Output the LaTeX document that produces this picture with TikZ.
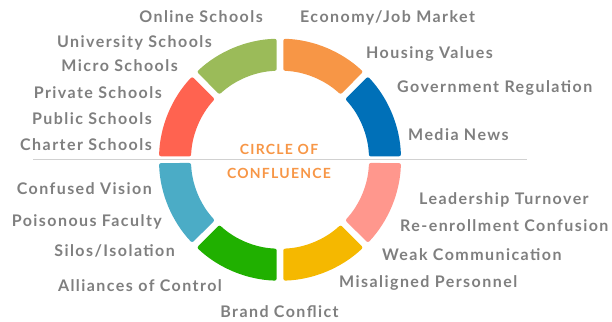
\documentclass[tikz,border=0pt]{standalone}
\usepackage{fontspec}
\setmainfont{Lato}[LetterSpace=9]
\definecolor{segblue}{HTML}{0070B8}
\definecolor{segorange}{HTML}{F79646}
\definecolor{segolive}{HTML}{9BBB59}
\definecolor{segred}{HTML}{FF6350}
\definecolor{segteal}{HTML}{4BACC6}
\definecolor{seggreen}{HTML}{20B000}
\definecolor{segyellow}{HTML}{F5B800}
\definecolor{segpink}{HTML}{FF978D}
\definecolor{lblgray}{HTML}{7F7F7F}
\tikzset{lbl/.style={font=\bfseries\fontsize{16}{18}\selectfont,text=lblgray,inner sep=0pt},
lbll/.style={lbl,anchor=base east},lblr/.style={lbl,anchor=base west},
ttl/.style={font=\bfseries\fontsize{14}{16}\selectfont,text=segorange,inner sep=0pt,anchor=base}}
\begin{document}
\begin{tikzpicture}[x=1pt,y=1pt]
\useasboundingbox(0,0)rectangle(612,321);
\coordinate(c)at(280,161.3);
\coordinate(ls)at(33,161.3);\coordinate(le)at(527,161.3);
\draw[color=black!18,line width=1pt](ls)--(le);
\foreach \a/\col in{0/segblue,45/segorange,90/segolive,135/segred,180/segteal,225/seggreen,270/segyellow,315/segpink}
\fill[\col,rounded corners=2pt,shift={(c)}](\a+1.6:121)arc[start angle=\a+1.6,end angle=\a+43.4,radius=121]
--(\a+42.9:89)arc[start angle=\a+42.9,end angle=\a+2.1,radius=89]--cycle;
\node[ttl](t1)at(279,166.5){CIRCLE OF};
\node[ttl](t2)at(279,142.5){CONFLUENCE};
% top left
\node[lbll](online)at(263,298){Online Schools};
\node[lbll](univ)at(212,273.7){University Schools};
\node[lbll](micro)at(178,249.5){Micro Schools};
\node[lbll](private)at(162,222.8){Private Schools};
\node[lbll](public)at(152,196.2){Public Schools};
\node[lbll](charter)at(152,170.5){Charter Schools};
% top right
\node[lblr](econ)at(300,298){Economy/Job Market};
\node[lblr](housing)at(366,262.2){Housing Values};
\node[lblr](gov)at(397,228.2){Government Regulation};
\node[lblr](media)at(408,180.5){Media News};
% bottom left
\node[lbll](vision)at(152,126.2){Confused Vision};
\node[lbll](faculty)at(162,94.8){Poisonous Faculty};
\node[lbll](silos)at(175,64.8){Silos/Isolation};
\node[lbll](alliance)at(222,29.8){Alliances of Control};
\node[lbl,anchor=base](brand)at(279.5,3.8){Brand Conflict};
% bottom right
\node[lblr](leader)at(419,116.2){Leadership Turnover};
\node[lblr](reenrol)at(400,89.5){Re-enrollment Confusion};
\node[lblr](weak)at(382,60.5){Weak Communication};
\node[lblr](misalign)at(339,33.8){Misaligned Personnel};
\end{tikzpicture}
\end{document}
